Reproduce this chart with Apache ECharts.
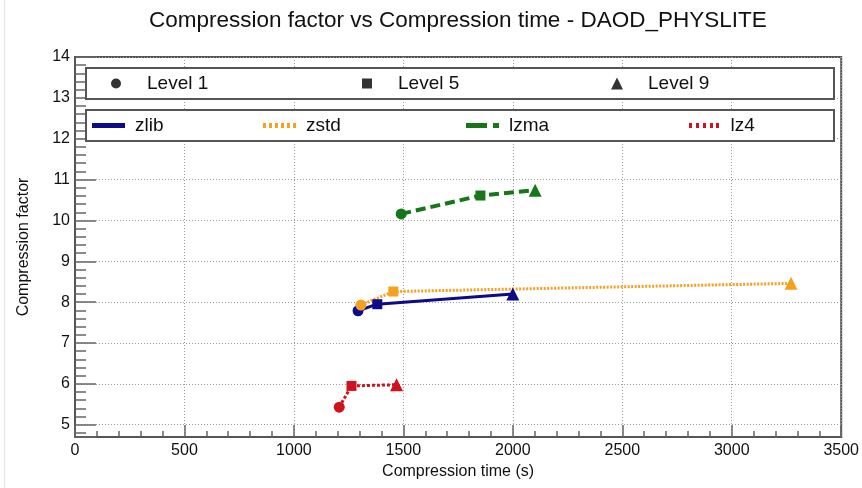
<!DOCTYPE html>
<html>
<head>
<meta charset="utf-8">
<script src="https://cdn.jsdelivr.net/npm/echarts@6/dist/echarts.min.js"></script>
<style>
html,body{margin:0;padding:0;background:#fff;}
#chart{width:862px;height:488px;}
</style>
</head>
<body>
<div id="chart"></div>
<script>
// ---- data ----
const levelNames = ['Level 1', 'Level 5', 'Level 9'];
const levelSymbols = ['circle', 'rect', 'triangle'];
const algoNames = ['zlib', 'zstd', 'lzma', 'lz4'];
const zlibTime = [1293, 1381, 2000];
const zlibFactor = [7.79, 7.95, 8.20];
const zstdTime = [1306, 1454, 3271];
const zstdFactor = [7.93, 8.26, 8.46];
const lzmaTime = [1490, 1852, 2102];
const lzmaFactor = [10.16, 10.61, 10.74];
const lz4Time = [1207, 1263, 1469];
const lz4Factor = [5.43, 5.95, 5.98];
const xTicks = [0, 500, 1000, 1500, 2000, 2500, 3000, 3500];

// ---- styles ----
const FONT = 'Liberation Sans, Arial, Helvetica, sans-serif';
const algoColors = {zlib: '#0c0c8a', zstd: '#f5a01e', lzma: '#16761a', lz4: '#d0121e'};
const algoLine = {
  zlib: {type: 'solid', width: 3},
  zstd: {type: [2, 1.5], width: 3},
  lzma: {type: [10, 5], width: 4},
  lz4: {type: [3, 2], width: 3}
};
const symSize = {circle: 11, rect: 10, triangle: 13};
const algoIcons = {
  zlib: 'path://M0,0H33V5H0Z',
  zstd: 'path://M0,0H3V5H0Z M6,0H9V5H6Z M12,0H15V5H12Z M18,0H21V5H18Z M24,0H27V5H24Z M30,0H33V5H30Z',
  lzma: 'path://M0,0H21V5H0Z M27,0H33V5H27Z',
  lz4: 'path://M0,0H3V5H0Z M7,0H10V5H7Z M14,0H17V5H14Z M21,0H24V5H21Z M27,0H30V5H27Z'
};
const algoData = {
  zlib: [zlibTime, zlibFactor],
  zstd: [zstdTime, zstdFactor],
  lzma: [lzmaTime, lzmaFactor],
  lz4: [lz4Time, lz4Factor]
};

const series = [];
algoNames.forEach(function (name) {
  const t = algoData[name][0], f = algoData[name][1];
  series.push({
    name: name,
    type: 'line',
    z: 3,
    symbol: 'circle',
    data: t.map(function (x, i) {
      return {value: [x, f[i]], symbol: levelSymbols[i], symbolSize: symSize[levelSymbols[i]]};
    }),
    itemStyle: {color: algoColors[name]},
    lineStyle: {color: algoColors[name], type: algoLine[name].type, width: algoLine[name].width},
    emphasis: {disabled: true},
    animation: false
  });
});
levelNames.forEach(function (name) {
  series.push({name: name, type: 'scatter', data: [], itemStyle: {color: '#000'}, animation: false});
});

const legends = [];
const levelCenters = [116, 367, 617];
const levelIconSize = [10, 10, 12];
levelNames.forEach(function (name, i) {
  const s = levelIconSize[i];
  legends.push({
    data: [{name: name, icon: levelSymbols[i]}],
    left: levelCenters[i] - s / 2, top: 72.5, padding: 0, z: 20,
    itemWidth: s, itemHeight: s, selectedMode: false,
    textStyle: {fontFamily: FONT, fontSize: 19, color: '#111', lineHeight: 22, padding: [0, 0, 0, 31 - s / 2 - 5]}
  });
});
const algoLefts = [92, 263, 466, 689];
algoNames.forEach(function (name, i) {
  legends.push({
    data: [{name: name, icon: algoIcons[name], itemStyle: {color: algoColors[name]}}],
    left: algoLefts[i], top: 114.5, padding: 0, z: 20,
    itemWidth: 33, itemHeight: 5, selectedMode: false,
    textStyle: {fontFamily: FONT, fontSize: 19, color: '#111', lineHeight: 22, padding: [0, 0, 0, 5]}
  });
});

const chart = echarts.init(document.getElementById('chart'), null, {renderer: 'canvas'});
chart.setOption({
  backgroundColor: '#fff',
  animation: false,
  title: {
    text: 'Compression factor vs Compression time - DAOD_PHYSLITE',
    left: 149, top: 9, padding: 0,
    textStyle: {fontFamily: FONT, fontSize: 22.5, fontWeight: 'normal', color: '#111'}
  },
  legend: legends,
  grid: {
    left: 75, right: 18, top: 57, bottom: 51,
    show: true, borderColor: '#555', borderWidth: 2, backgroundColor: 'transparent'
  },
  graphic: [
    {type: 'line', shape: {x1: 4.5, y1: 0, x2: 4.5, y2: 488}, style: {stroke: '#e4e4e4', lineWidth: 1}, z: 1},
    {type: 'rect', shape: {x: 86, y: 68, width: 748, height: 31}, style: {fill: '#fff', stroke: '#555', lineWidth: 2}, z: 10},
    {type: 'rect', shape: {x: 86, y: 110, width: 748, height: 31}, style: {fill: '#fff', stroke: '#555', lineWidth: 2}, z: 10}
  ],
  xAxis: {
    type: 'value', min: xTicks[0], max: xTicks[xTicks.length - 1], interval: xTicks[1] - xTicks[0],
    name: 'Compression time (s)', nameLocation: 'middle', nameGap: 20,
    nameTextStyle: {fontFamily: FONT, fontSize: 16, color: '#111'},
    axisLine: {show: true, lineStyle: {color: '#555', width: 2}},
    axisTick: {show: true, inside: true, length: 12, lineStyle: {color: '#666', width: 1.5}},
    minorTick: {show: true, splitNumber: 5, length: 6, lineStyle: {color: '#666', width: 1.5}},
    axisLabel: {fontFamily: FONT, fontSize: 16, color: '#111', margin: 6, formatter: function (v) { return String(v); }},
    splitLine: {show: true, lineStyle: {color: '#999', type: [1, 2], width: 1}}
  },
  yAxis: {
    type: 'value', min: 4.7, max: 14, splitNumber: 9, minInterval: 1, maxInterval: 1,
    name: 'Compression factor', nameLocation: 'middle', nameGap: 43,
    nameTextStyle: {fontFamily: FONT, fontSize: 16, color: '#111'},
    axisLine: {show: true, lineStyle: {color: '#555', width: 2}},
    axisTick: {show: true, inside: true, length: 21, lineStyle: {color: '#666', width: 1.5}},
    minorTick: {show: true, splitNumber: 5, length: 11, lineStyle: {color: '#666', width: 1.5}},
    axisLabel: {
      fontFamily: FONT, fontSize: 16, color: '#111', margin: 5,
      formatter: function (v) { return Math.abs(v - Math.round(v)) < 1e-6 ? String(Math.round(v)) : ''; }
    },
    splitLine: {show: true, lineStyle: {color: '#999', type: [1, 2], width: 1}}
  },
  series: series
});
</script>
</body>
</html>
